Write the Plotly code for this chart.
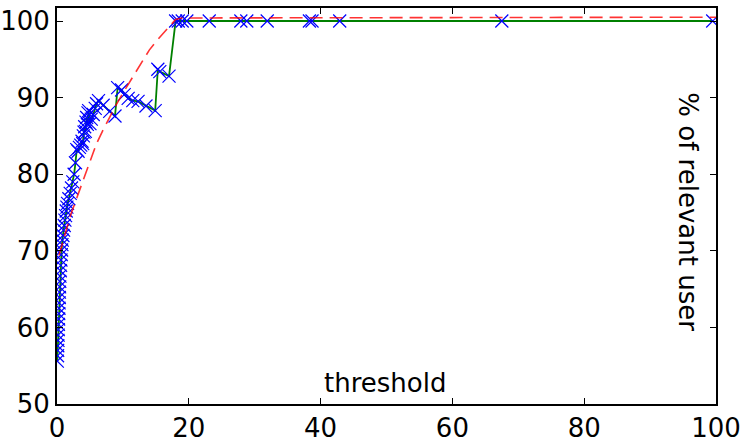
import plotly.graph_objects as go

# measured points (threshold, % of relevant user)
thr = [0.05, 0.08, 0.1, 0.12, 0.15, 0.17, 0.2, 0.22, 0.25, 0.27, 0.3, 0.32, 0.35, 0.37,
       0.4, 0.42, 0.45, 0.5, 0.55, 0.6, 0.65, 0.7, 0.75, 0.8, 0.9, 1.0, 1.1, 1.2, 1.3,
       1.4, 1.5, 1.6, 1.8, 2.0, 2.2, 2.4, 2.6, 2.8, 3.0, 3.2, 3.4, 3.6, 3.8, 3.9, 4.0,
       4.1, 4.2, 4.3, 4.4, 4.5, 4.6, 4.7, 4.8, 5.0, 5.2, 5.5, 5.8, 6.0, 6.3, 7.0, 8.0,
       8.8, 9.2, 9.8, 10.2, 10.8, 11.5, 12.3, 13.5, 14.9, 15.3, 15.6, 17.0, 18.0, 18.4,
       19.0, 19.7, 23.1, 27.9, 28.8, 31.9, 38.3, 38.7, 42.9, 67.5, 99.5]
pct = [55.6, 56.3, 57.0, 57.6, 58.3, 59.0, 59.7, 60.4, 61.1, 61.8, 62.5, 63.2, 63.9, 64.6,
       65.3, 66.0, 66.7, 67.4, 68.1, 68.8, 69.5, 70.1, 70.8, 71.4, 72.0, 72.7, 73.3, 74.0, 74.6,
       75.2, 75.7, 76.2, 76.8, 77.5, 78.2, 79.0, 80.0, 81.5, 83.2, 83.0, 83.5, 83.8, 84.3, 84.0, 85.0,
       85.5, 86.2, 85.6, 86.8, 87.4, 86.5, 88.0, 88.3, 86.6, 87.2, 87.8, 88.6, 89.2, 89.6, 89.0, 88.2,
       87.6, 91.3, 91.0, 90.4, 89.9, 89.6, 89.5, 88.9, 88.3, 93.7, 93.4, 92.8, 100.0, 100.0,
       100.0, 100.0, 100.0, 100.0, 100.0, 100.0, 100.0, 100.0, 100.0, 100.0, 100.0]

# fitted curve (red dashed)
fit_x = [0.3, 1.0, 2.0, 3.0, 4.0, 5.0, 6.0, 7.0, 8.0, 9.0, 10.0, 11.0, 12.0, 13.0, 14.0,
         15.0, 16.0, 17.0, 18.0, 19.0, 20.0, 100.0]
fit_y = [69.4, 71.6, 74.5, 76.9, 79.2, 81.6, 84.0, 85.8, 87.5, 89.1, 90.6, 92.0, 93.4, 94.8,
         96.2, 97.3, 98.3, 99.3, 100.2, 100.4, 100.4, 100.5]

x_ticks = [0, 20, 40, 60, 80, 100]
y_ticks = [50, 60, 70, 80, 90, 100]

FONT = "DejaVu Sans"

fig = go.Figure()
fig.add_trace(go.Scatter(x=thr, y=pct, mode="lines",
                         line=dict(color="#008000", width=1.8), hoverinfo="skip"))
fig.add_trace(go.Scatter(x=thr, y=pct, mode="markers",
                         marker=dict(symbol="x-thin", size=13, color="#0000ff",
                                     line=dict(color="#0000ff", width=1.2))))
fig.add_trace(go.Scatter(x=fit_x, y=fit_y, mode="lines",
                         line=dict(color="rgba(255,0,0,0.8)", width=1.6, dash="13px,7px")))

axis_common = dict(showgrid=False, zeroline=False, showline=True, linecolor="black",
                   linewidth=2, mirror="allticks", ticks="inside", ticklen=6,
                   tickcolor="black", tickwidth=1, automargin=False,
                   ticklabeloverflow="allow",
                   tickfont=dict(family=FONT, size=26, color="black"))

fig.update_xaxes(range=[0, 100], tickvals=x_ticks, ticktext=[str(v) for v in x_ticks],
                 **axis_common)
fig.update_yaxes(range=[50, 101.7], tickvals=y_ticks, ticktext=[str(v) for v in y_ticks],
                 **axis_common)

fig.add_annotation(text="threshold", xref="paper", yref="paper", x=0.497, y=0.053,
                   xanchor="center", yanchor="middle", showarrow=False,
                   font=dict(family=FONT, size=26, color="black"))
fig.add_annotation(text="% of relevant user", xref="paper", yref="paper", x=0.957, y=0.485,
                   xanchor="center", yanchor="middle", textangle=90, showarrow=False,
                   font=dict(family=FONT, size=26, color="black"))

fig.update_layout(width=740, height=437, showlegend=False,
                  margin=dict(l=57, r=24, t=8, b=33),
                  paper_bgcolor="white", plot_bgcolor="white",
                  font=dict(family=FONT))

fig.write_html("out.html", config={"displayModeBar": False},
               post_script="document.body.style.margin='0';document.body.style.overflow='hidden';")
